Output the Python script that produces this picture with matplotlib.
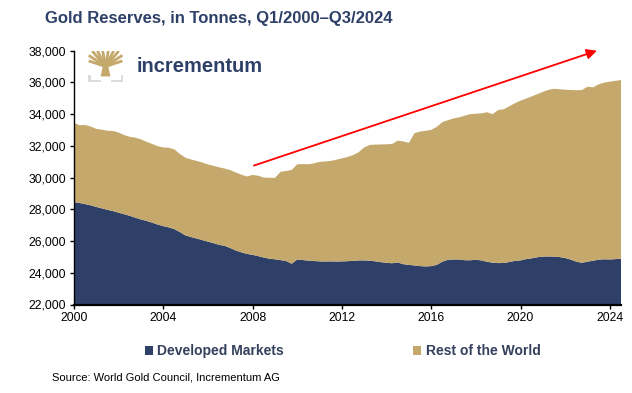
import matplotlib
matplotlib.use("Agg")
import matplotlib.pyplot as plt
from matplotlib.patches import Patch, Polygon
from matplotlib.ticker import FuncFormatter
import numpy as np

plt.rcParams['font.family'] = ['Liberation Sans', 'DejaVu Sans']

# ---------------- data (tonnes, quarterly Q1/2000 - Q3/2024) ----------------
start_year = 2000
total_reserves = [
    33450, 33300, 33320, 33220, 33070, 33020, 32950, 32940,   # 2000-2001
    32840, 32680, 32570, 32520, 32410, 32260, 32120, 31980,   # 2002-2003
    31900, 31880, 31780, 31480, 31250, 31140, 31050, 30950,   # 2004-2005
    30830, 30740, 30650, 30570, 30470, 30320, 30180, 30070,   # 2006-2007
    30170, 30120, 30000, 29990, 29980, 30360, 30420, 30480,   # 2008-2009
    30840, 30850, 30840, 30900, 30990, 31020, 31050, 31130,   # 2010-2011
    31210, 31300, 31420, 31600, 31900, 32060, 32080, 32090,   # 2012-2013
    32100, 32120, 32330, 32280, 32190, 32800, 32900, 32950,   # 2014-2015
    33010, 33200, 33500, 33620, 33730, 33800, 33900, 34000,   # 2016-2017
    34030, 34050, 34120, 34000, 34260, 34310, 34500, 34690,   # 2018-2019
    34850, 34980, 35120, 35260, 35400, 35530, 35600, 35570,   # 2020-2021
    35540, 35520, 35510, 35520, 35730, 35690, 35880, 35990,   # 2022-2023
    36050, 36100, 36150,                                      # 2024
]
developed_markets = [
    28450, 28400, 28330, 28250, 28150, 28060, 27970, 27890,
    27790, 27690, 27590, 27470, 27360, 27270, 27160, 27040,
    26940, 26860, 26750, 26560, 26350, 26250, 26160, 26060,
    25960, 25870, 25760, 25700, 25560, 25400, 25290, 25190,
    25130, 25050, 24960, 24890, 24850, 24800, 24740, 24570,
    24840, 24800, 24770, 24740, 24720, 24710, 24720, 24710,
    24720, 24730, 24750, 24780, 24780, 24760, 24720, 24670,
    24630, 24600, 24650, 24540, 24500, 24460, 24420, 24400,
    24420, 24500, 24700, 24820, 24840, 24840, 24790, 24790,
    24820, 24780, 24690, 24640, 24610, 24620, 24680, 24750,
    24780, 24860, 24910, 24980, 25020, 25030, 25020, 24990,
    24930, 24830, 24700, 24630, 24700, 24760, 24830, 24850,
    24840, 24860, 24890,
]
series_labels = ["Developed Markets", "Rest of the World"]
year_ticks = [2000, 2004, 2008, 2012, 2016, 2020, 2024]
y_ticks = [22000, 24000, 26000, 28000, 30000, 32000, 34000, 36000, 38000]
arrow_start = (2008.06, 30760)
arrow_end = (2023.42, 38000)

title = "Gold Reserves, in Tonnes, Q1/2000\u2013Q3/2024"
source = "Source: World Gold Council, Incrementum AG"

# ---------------- styling ----------------
NAVY = "#2E4068"
GOLD = "#C4A86C"
W, H = 632, 393

t = start_year + np.arange(len(total_reserves)) * 0.25
dev = np.array(developed_markets, dtype=float)
rest = np.array(total_reserves, dtype=float) - dev

fig = plt.figure(figsize=(W / 100, H / 100), dpi=100)
ax = fig.add_axes([74 / W, 1 - 304.5 / H, (621 - 74) / W, (304.5 - 50.7) / H])

ax.stackplot(t, dev, rest, colors=[NAVY, GOLD], linewidth=0)

ax.set_xlim(t[0], t[-1])
ax.set_ylim(y_ticks[0], y_ticks[-1])
ax.set_xticks(year_ticks)
ax.set_yticks(y_ticks)
ax.yaxis.set_major_formatter(FuncFormatter(lambda v, p: f"{int(v):,}"))
for s in ["top", "right"]:
    ax.spines[s].set_visible(False)
ax.spines["left"].set_linewidth(1.0)
ax.spines["bottom"].set_linewidth(1.6)
ax.tick_params(axis="both", labelsize=8.8, length=3, width=1, pad=2.5, colors="black")

ax.annotate("", xy=arrow_end, xytext=arrow_start, annotation_clip=False,
            arrowprops=dict(arrowstyle="-|>", color="#FF0000", lw=1.3,
                            mutation_scale=15, shrinkA=0, shrinkB=0))

# title
fig.text(45 / W, 1 - 18 / H, title, fontsize=12, fontweight="bold", color=NAVY,
         ha="left", va="center")

# logo
lax = fig.add_axes([88 / W, 1 - 82 / H, 35 / W, 31 / H])
lax.set_xlim(0, 1)
lax.set_ylim(0, 1)
lax.axis("off")
lax.add_patch(Polygon([(0.36, 0.18), (0.64, 0.18), (0.57, 0.55), (0.43, 0.55)],
                      closed=True, color=GOLD, lw=0))
for (x2, y2) in [(0.02, 0.68), (0.02, 0.86), (0.12, 1.0), (0.27, 1.0), (0.42, 1.0),
                 (0.58, 1.0), (0.73, 1.0), (0.88, 1.0), (0.98, 0.86), (0.98, 0.68)]:
    lax.plot([0.5, x2], [0.5, y2], color=GOLD, lw=2.0, solid_capstyle="butt")
lax.plot([0.02, 0.02, 0.32], [0.18, 0.02, 0.02], color="#D9D9D9", lw=2)
lax.plot([0.68, 0.98, 0.98], [0.02, 0.02, 0.18], color="#D9D9D9", lw=2)

fig.text(137 / W, 1 - 67 / H, "incrementum", fontsize=14.5, fontweight="bold",
         color=NAVY, ha="left", va="center")

# legend
handles = [Patch(facecolor=NAVY, edgecolor="none"), Patch(facecolor=GOLD, edgecolor="none")]
leg = fig.legend(handles, series_labels, loc="center", bbox_to_anchor=(0.542, 1 - 351 / H),
                 ncol=2, frameon=False, fontsize=10, handlelength=0.6, handleheight=0.6,
                 handletextpad=0.3, columnspacing=9.3, borderpad=0)
for txt in leg.get_texts():
    txt.set_fontweight("bold")
    txt.set_color("#34405C")

fig.text(52 / W, 1 - 377 / H, source, fontsize=8, color="black", ha="left", va="center")

fig.savefig("out.png", dpi=100)
